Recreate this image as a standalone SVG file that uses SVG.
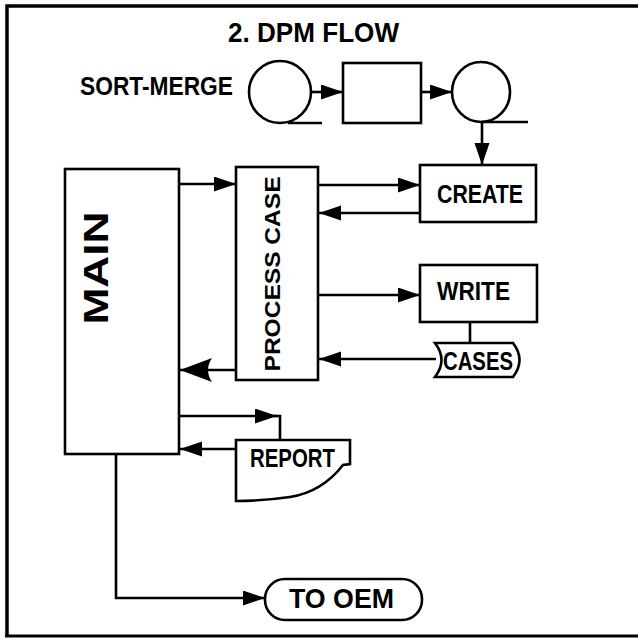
<svg xmlns="http://www.w3.org/2000/svg" width="638" height="639" viewBox="0 0 638 639">
<style>
.s{fill:none;stroke:#000;stroke-width:2.6}
.b{fill:#fff;stroke:#000;stroke-width:2.6}
.t{font-family:"Liberation Sans Narrow","Liberation Sans",Arial,sans-serif;font-weight:bold;fill:#000}
</style>
<defs>
<marker id="ah" markerUnits="userSpaceOnUse" markerWidth="24" markerHeight="16" refX="22" refY="7.5" orient="auto">
<path d="M0,0 L22,7.5 L0,15 Z" fill="#000"/>
</marker>
<marker id="ahb" markerUnits="userSpaceOnUse" markerWidth="34" markerHeight="26" refX="32" refY="12" orient="auto">
<path d="M0,0 Q8,12 0,24 L32,12 Z" fill="#000"/>
</marker>
</defs>
<rect width="638" height="639" fill="#fff"/>
<g id="frame">
<path d="M7,637 V6 H638" fill="none" stroke="#000" stroke-width="3.5"/>
<path d="M5,636 H638" fill="none" stroke="#000" stroke-width="3"/>
</g>
<g id="title">
<text class="t" x="228" y="42" font-size="28" textLength="171" lengthAdjust="spacingAndGlyphs">2. DPM FLOW</text>
</g>
<g id="sortmerge-label">
<text class="t" x="80" y="95" font-size="25" textLength="153" lengthAdjust="spacingAndGlyphs">SORT-MERGE</text>
</g>
<g id="tape1">
<circle class="b" cx="280" cy="92" r="31"/>
<line class="s" x1="288" y1="123" x2="322" y2="123"/>
</g>
<g id="sortbox">
<rect class="b" x="343" y="63" width="78" height="60"/>
</g>
<g id="tape2">
<ellipse class="b" cx="481" cy="92" rx="29" ry="30"/>
<line class="s" x1="481" y1="122" x2="528" y2="122"/>
</g>
<g id="main">
<rect class="b" x="65" y="169" width="114" height="285"/>
<text class="t" transform="translate(108,268) rotate(-90)" x="0" y="0" font-size="35" text-anchor="middle" textLength="113" lengthAdjust="spacingAndGlyphs">MAIN</text>
</g>
<g id="processcase">
<rect class="b" x="236" y="167" width="82" height="213"/>
<text class="t" transform="translate(280,274) rotate(-90)" x="0" y="0" font-size="22" text-anchor="middle" textLength="195" lengthAdjust="spacingAndGlyphs">PROCESS CASE</text>
</g>
<g id="create">
<rect class="b" x="420" y="165" width="116" height="57"/>
<text class="t" x="437" y="203" font-size="25" textLength="86" lengthAdjust="spacingAndGlyphs">CREATE</text>
</g>
<g id="write">
<rect class="b" x="420" y="265" width="117" height="57"/>
<text class="t" x="437" y="300" font-size="25" textLength="73" lengthAdjust="spacingAndGlyphs">WRITE</text>
</g>
<g id="cases">
<path class="b" d="M435,343 L513,343 Q526,360 513,377 L435,377 Q448,360 435,343 Z"/>
<text class="t" x="443" y="370" font-size="25" textLength="70" lengthAdjust="spacingAndGlyphs">CASES</text>
</g>
<g id="report">
<path class="b" d="M236,440 H350 V464 L343,465 Q322,492 290,497 Q262,501 236,501 Z"/>
<text class="t" x="250" y="467" font-size="26" textLength="85" lengthAdjust="spacingAndGlyphs">REPORT</text>
</g>
<g id="tooem">
<rect class="b" x="265" y="579" width="157" height="41" rx="20" ry="20"/>
<text class="t" x="289" y="608" font-size="28" textLength="105" lengthAdjust="spacingAndGlyphs">TO OEM</text>
</g>
<g id="connectors">
<line class="s" x1="311" y1="92" x2="343" y2="92" marker-end="url(#ah)"/>
<line class="s" x1="421" y1="92" x2="452" y2="92" marker-end="url(#ah)"/>
<line class="s" x1="482" y1="122" x2="482" y2="165" marker-end="url(#ah)"/>
<line class="s" x1="179" y1="184" x2="236" y2="184" marker-end="url(#ah)"/>
<line class="s" x1="318" y1="185" x2="420" y2="185" marker-end="url(#ah)"/>
<line class="s" x1="420" y1="213" x2="319" y2="213" marker-end="url(#ah)"/>
<line class="s" x1="318" y1="295" x2="420" y2="295" marker-end="url(#ah)"/>
<line class="s" x1="470" y1="322" x2="470" y2="343"/>
<line class="s" x1="436" y1="359" x2="319" y2="359" marker-end="url(#ah)"/>
<line class="s" x1="236" y1="370" x2="180" y2="370" marker-end="url(#ahb)"/>
<line class="s" x1="179" y1="416" x2="277" y2="416" marker-end="url(#ah)"/>
<path class="s" d="M274,416 H280 V440"/>
<line class="s" x1="236" y1="449" x2="180" y2="449" marker-end="url(#ah)"/>
<path class="s" d="M116,454 V598 H265" marker-end="url(#ah)"/>
</g>
</svg>
